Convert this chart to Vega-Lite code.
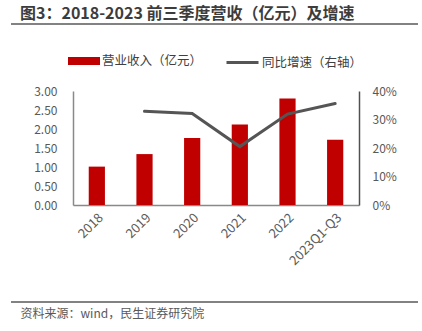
{
  "$schema": "https://vega.github.io/schema/vega-lite/v6.json",
  "width": 286,
  "height": 114,
  "autosize": {"type": "none"},
  "padding": {"left": 73, "top": 91, "right": 63, "bottom": 126},
  "background": "white",
  "config": {
    "font": "Noto Sans CJK SC",
    "view": {"stroke": null}
  },
  "title": {
    "text": "图3：2018-2023 前三季度营收（亿元）及增速",
    "anchor": "start",
    "frame": "group",
    "fontSize": 16,
    "fontWeight": "bold",
    "color": "#3c3c3c",
    "dx": -53,
    "orient": "top",
    "offset": 1
  },
  "data": {
    "values": [
      {"year": "2018", "revenue": 1.01, "growth": null},
      {"year": "2019", "revenue": 1.34, "growth": 0.329},
      {"year": "2020", "revenue": 1.76, "growth": 0.321},
      {"year": "2021", "revenue": 2.12, "growth": 0.205},
      {"year": "2022", "revenue": 2.8, "growth": 0.319},
      {"year": "2023Q1-Q3", "revenue": 1.72, "growth": 0.356}
    ]
  },
  "encoding": {
    "x": {
      "field": "year",
      "type": "ordinal",
      "sort": null,
      "scale": {"paddingInner": 0.66, "paddingOuter": 0.33},
      "axis": {
        "title": "资料来源：wind，民生证券研究院",
        "titleAnchor": "start",
        "titleAlign": "left",
        "titleX": -53,
        "titleY": 108,
        "titleFontSize": 12,
        "titleFontWeight": "normal",
        "titleColor": "#595959",
        "titleBaseline": "middle",
        "labelAngle": -45,
        "labelFontSize": 13,
        "labelColor": "#595959",
        "labelPadding": 6,
        "ticks": false,
        "domainColor": "#898989",
        "domainWidth": 1.5
      }
    }
  },
  "layer": [
    {
      "mark": {"type": "bar", "color": "#C00000"},
      "encoding": {
        "y": {
          "field": "revenue",
          "type": "quantitative",
          "scale": {"domain": [0, 3]},
          "axis": {
            "title": null,
            "values": [0, 0.5, 1, 1.5, 2, 2.5, 3],
            "format": ".2f",
            "grid": false,
            "ticks": false,
            "labelPadding": 16,
            "labelFontSize": 12,
            "labelColor": "#595959",
            "domainColor": "#898989",
            "domainWidth": 1.5
          }
        },
        "fill": {
          "datum": "营业收入（亿元）",
          "type": "nominal",
          "scale": {"range": ["#C00000"]},
          "legend": {
            "orient": "none",
            "legendX": -5,
            "legendY": -46,
            "title": null,
            "padding": 0,
            "symbolType": "M-1,-0.25H1V0.25H-1Z",
            "symbolSize": 1024,
            "symbolStrokeWidth": 0,
            "labelFontSize": 12.5,
            "labelColor": "#404040",
            "labelOffset": 2
          }
        }
      }
    },
    {
      "mark": {"type": "line", "strokeWidth": 3, "strokeCap": "round"},
      "encoding": {
        "y": {
          "field": "growth",
          "type": "quantitative",
          "scale": {"domain": [0, 0.4]},
          "axis": {
            "title": null,
            "orient": "right",
            "values": [0, 0.1, 0.2, 0.3, 0.4],
            "format": ".0%",
            "grid": false,
            "ticks": false,
            "labelPadding": 13,
            "labelFontSize": 12,
            "labelColor": "#595959",
            "domainColor": "#505050",
            "domainWidth": 1.5
          }
        },
        "stroke": {
          "datum": "同比增速（右轴）",
          "type": "nominal",
          "scale": {"range": ["#555555"]},
          "legend": {
            "orient": "none",
            "legendX": 152,
            "legendY": -46,
            "title": null,
            "padding": 0,
            "symbolType": "stroke",
            "symbolSize": 1024,
            "symbolStrokeWidth": 3,
            "labelFontSize": 12.5,
            "labelColor": "#404040",
            "labelOffset": 2
          }
        }
      }
    },
    {
      "data": {"values": [{}]},
      "mark": {"type": "rule", "color": "#595959", "strokeWidth": 1.5},
      "encoding": {
        "x": {"value": -62},
        "x2": {"value": 345},
        "y": {"value": -67}
      }
    },
    {
      "data": {"values": [{}]},
      "mark": {"type": "rule", "color": "#595959", "strokeWidth": 1.5},
      "encoding": {
        "x": {"value": -62},
        "x2": {"value": 345},
        "y": {"value": 211}
      }
    }
  ],
  "resolve": {"scale": {"y": "independent", "fill": "independent", "stroke": "independent"}}
}
